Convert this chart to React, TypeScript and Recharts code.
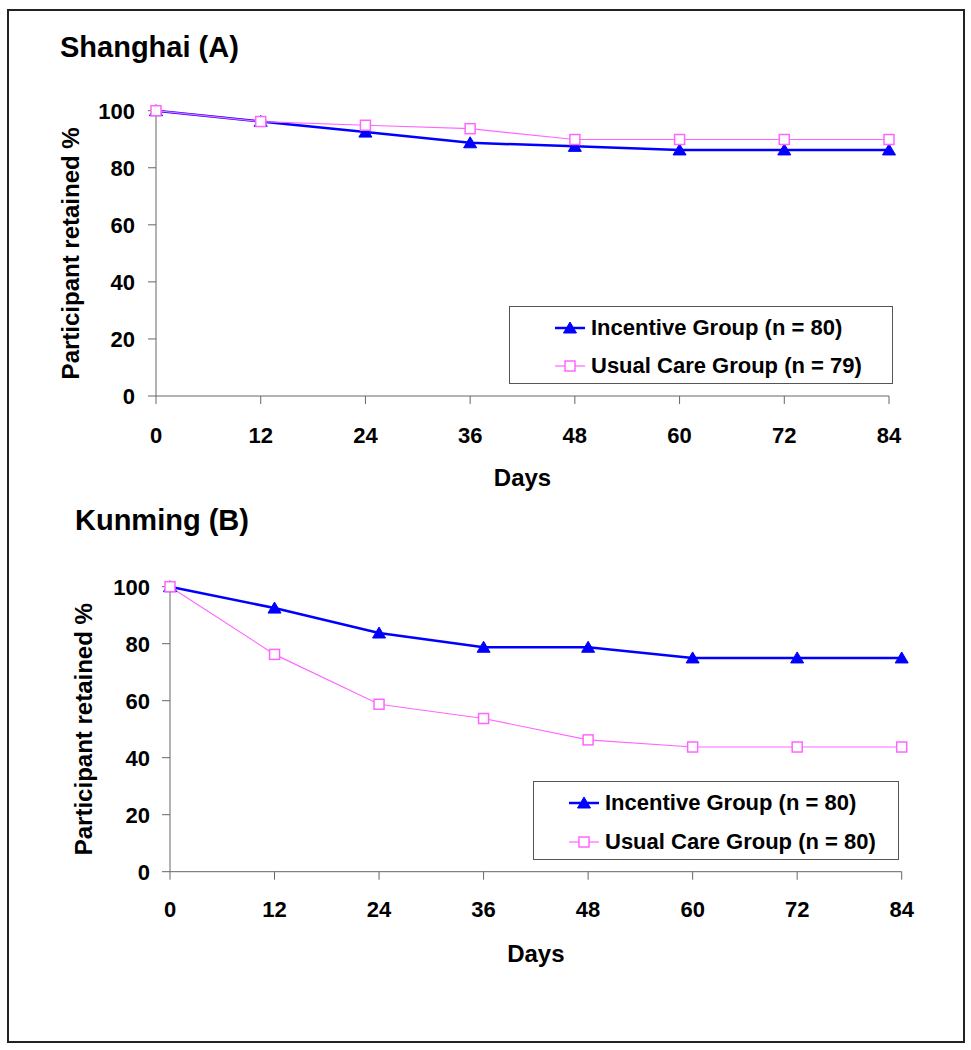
import React from "react";
import { LineChart, Line, XAxis, YAxis, Legend, Label } from "recharts";

const DAYS = [0, 12, 24, 36, 48, 60, 72, 84];
const Y_TICKS = [0, 20, 40, 60, 80, 100];

// Shanghai (A)
const SH_INCENTIVE = [100, 96.25, 92.5, 88.75, 87.5, 86.25, 86.25, 86.25];
const SH_USUAL = [100, 96.2, 94.9, 93.7, 89.9, 89.9, 89.9, 89.9];
const SH_NAMES = ["Incentive Group (n = 80)", "Usual Care Group (n = 79)"];

// Kunming (B)
const KM_INCENTIVE = [100, 92.5, 83.75, 78.75, 78.75, 75, 75, 75];
const KM_USUAL = [100, 76.25, 58.75, 53.75, 46.25, 43.75, 43.75, 43.75];
const KM_NAMES = ["Incentive Group (n = 80)", "Usual Care Group (n = 80)"];

const FONT = '"Liberation Sans", Arial, Helvetica, sans-serif';
const BLUE = "#0000FF";
const PINK = "#FF66FF";
const AXIS = "#666";

const toRows = (inc: number[], usual: number[]) =>
  DAYS.map((d, i) => ({ day: d, incentive: inc[i], usual: usual[i] }));

const triangle = (cx: number, cy: number, key?: string) => (
  <polygon
    key={key}
    points={`${cx},${cy - 6} ${cx + 6.5},${cy + 5} ${cx - 6.5},${cy + 5}`}
    fill={BLUE}
    stroke={BLUE}
  />
);

const square = (cx: number, cy: number, key?: string) => (
  <rect
    key={key}
    x={cx - 5}
    y={cy - 5}
    width={10}
    height={10}
    fill="#fff"
    stroke={PINK}
    strokeWidth={1.5}
  />
);

const renderTriangle = (p: any) => triangle(p.cx, p.cy, `t-${p.index}`);
const renderSquare = (p: any) => square(p.cx, p.cy, `s-${p.index}`);

type Box = { left: number; top: number; width: number; height: number; iconLeft: number; rows: number[] };

const makeLegend = (box: Box) => (props: any) => {
  const payload = props.payload || [];
  return (
    <div
      style={{
        position: "relative",
        width: box.width,
        height: box.height,
        border: "1px solid #555",
        boxSizing: "border-box",
        background: "#fff",
        fontFamily: FONT,
        fontWeight: "bold",
        fontSize: 22,
        color: "#000",
      }}
    >
      {payload.map((entry: any, i: number) => {
        const isInc = entry.dataKey === "incentive";
        return (
          <div
            key={entry.dataKey}
            style={{
              position: "absolute",
              left: box.iconLeft,
              top: box.rows[isInc ? 0 : 1] - 14,
              height: 28,
              display: "flex",
              alignItems: "center",
              whiteSpace: "nowrap",
            }}
          >
            <svg width={30} height={16} style={{ display: "block" }}>
              <line x1={0} y1={8} x2={30} y2={8} stroke={entry.color} strokeWidth={isInc ? 2.5 : 1.2} />
              {isInc ? triangle(15, 8) : square(15, 8)}
            </svg>
            <span style={{ marginLeft: 6, lineHeight: "28px" }}>{entry.value}</span>
          </div>
        );
      })}
    </div>
  );
};

type PanelProps = {
  top: number;
  height: number;
  margin: { top: number; right: number; bottom: number; left: number };
  rows: any[];
  names: string[];
  legend: Box;
  yLabelOffset: number;
  xTickMargin: number;
  yTickMargin: number;
};

function Panel({ top, height, margin, rows, names, legend, yLabelOffset, xTickMargin, yTickMargin }: PanelProps) {
  const tick = { fill: "#000", fontSize: 22, fontWeight: "bold", fontFamily: FONT };
  const labelStyle = { fill: "#000", fontSize: 24, fontWeight: "bold", fontFamily: FONT, textAnchor: "middle" } as any;
  return (
    <div style={{ position: "absolute", left: 0, top }}>
      <LineChart width={971} height={height} data={rows} margin={margin}>
        <XAxis
          type="number"
          dataKey="day"
          domain={[0, 84]}
          ticks={DAYS}
          interval={0}
          height={90}
          tickSize={8}
          tickMargin={xTickMargin}
          stroke={AXIS}
          tick={tick}
        >
          <Label value="Days" position="insideBottom" offset={0} style={labelStyle} />
        </XAxis>
        <YAxis
          type="number"
          domain={[0, 100]}
          ticks={Y_TICKS}
          interval={0}
          width={60}
          tickSize={8}
          tickMargin={yTickMargin}
          stroke={AXIS}
          tick={tick}
        >
          <Label
            value="Participant retained %"
            angle={-90}
            position="insideLeft"
            offset={yLabelOffset}
            style={labelStyle}
          />
        </YAxis>
        <Legend
          layout="horizontal"
          verticalAlign="middle"
          align="center"
          width={legend.width}
          height={legend.height}
          wrapperStyle={{ left: legend.left, top: legend.top - top, width: legend.width, height: legend.height }}
          content={makeLegend(legend)}
        />
        <Line
          type="linear"
          dataKey="incentive"
          name={names[0]}
          stroke={BLUE}
          strokeWidth={2.5}
          dot={renderTriangle}
          activeDot={false}
          isAnimationActive={false}
        />
        <Line
          type="linear"
          dataKey="usual"
          name={names[1]}
          stroke={PINK}
          strokeWidth={1.2}
          dot={renderSquare}
          activeDot={false}
          isAnimationActive={false}
        />
      </LineChart>
    </div>
  );
}

const titleStyle: React.CSSProperties = {
  position: "absolute",
  fontFamily: FONT,
  fontWeight: "bold",
  fontSize: 29,
  lineHeight: 1,
  color: "#000",
  whiteSpace: "nowrap",
};

export default function App() {
  return (
    <div style={{ position: "absolute", left: 0, top: 0, width: 971, height: 1050, background: "#fff" }}>
      <div
        style={{
          position: "absolute",
          left: 7,
          top: 9,
          width: 958,
          height: 1034,
          border: "2px solid #222",
          boxSizing: "border-box",
        }}
      />
      <div style={{ ...titleStyle, left: 60, top: 33 }}>Shanghai (A)</div>
      <div style={{ ...titleStyle, left: 75, top: 506 }}>Kunming (B)</div>
      <Panel
        top={0}
        height={500}
        margin={{ top: 110.7, right: 82, bottom: 14, left: 96 }}
        rows={toRows(SH_INCENTIVE, SH_USUAL)}
        names={SH_NAMES}
        legend={{ left: 509, top: 306, width: 384, height: 78, iconLeft: 45, rows: [21, 59] }}
        yLabelOffset={-26}
        xTickMargin={23}
        yTickMargin={13}
      />
      <Panel
        top={470}
        height={520}
        margin={{ top: 116.7, right: 69.3, bottom: 28.3, left: 110 }}
        rows={toRows(KM_INCENTIVE, KM_USUAL)}
        names={KM_NAMES}
        legend={{ left: 533, top: 781, width: 366, height: 79, iconLeft: 35, rows: [21, 60] }}
        yLabelOffset={-27}
        xTickMargin={22}
        yTickMargin={12}
      />
    </div>
  );
}
